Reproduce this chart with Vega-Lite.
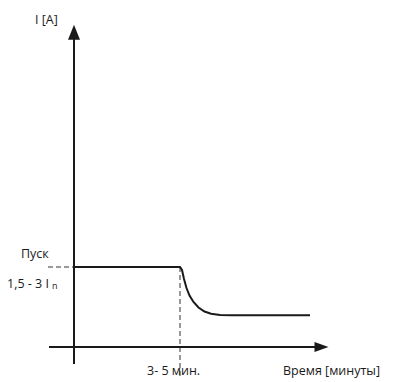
{
  "$schema": "https://vega.github.io/schema/vega-lite/v6.json",
  "width": 393,
  "height": 382,
  "autosize": {"type": "fit", "contains": "padding"},
  "padding": 0,
  "background": "white",
  "config": {"view": {"stroke": null}},
  "datasets": {
    "solid": [
      {"s": "yaxis", "o": 0, "x": 74, "y": 364},
      {"s": "yaxis", "o": 1, "x": 74, "y": 38},
      {"s": "xaxis", "o": 0, "x": 49, "y": 347},
      {"s": "xaxis", "o": 1, "x": 316, "y": 347},
      {"s": "curve", "o": 0, "x": 74, "y": 267},
      {"s": "curve", "o": 1, "x": 180, "y": 267},
      {"s": "curve", "o": 2, "x": 182, "y": 270},
      {"s": "curve", "o": 3, "x": 184, "y": 279},
      {"s": "curve", "o": 4, "x": 186.5, "y": 288},
      {"s": "curve", "o": 5, "x": 189.5, "y": 295.5},
      {"s": "curve", "o": 6, "x": 193.5, "y": 302},
      {"s": "curve", "o": 7, "x": 198.5, "y": 307.5},
      {"s": "curve", "o": 8, "x": 204.5, "y": 311.5},
      {"s": "curve", "o": 9, "x": 211, "y": 313.8},
      {"s": "curve", "o": 10, "x": 220, "y": 315},
      {"s": "curve", "o": 11, "x": 232, "y": 315.3},
      {"s": "curve", "o": 12, "x": 310, "y": 315.3}
    ],
    "dashed": [
      {"s": "h", "x": 48, "y": 267},
      {"s": "h", "x": 74, "y": 267},
      {"s": "v", "x": 180, "y": 267},
      {"s": "v", "x": 180, "y": 378}
    ],
    "labels": [
      {"t": "I [A]", "x": 35, "y": 20},
      {"t": "Пуск", "x": 21, "y": 254},
      {"t": "1,5 - 3 I", "x": 7, "y": 284},
      {"t": "3- 5 мин.", "x": 147, "y": 371},
      {"t": "Время [минуты]", "x": 283, "y": 371}
    ],
    "sub": [{"t": "n", "x": 52, "y": 286}],
    "up": [{"x": 74, "y": 32.3}],
    "right": [{"x": 321.5, "y": 347}]
  },
  "encoding": {
    "x": {"field": "x", "type": "quantitative", "scale": {"domain": [0, 393], "nice": false, "zero": false}, "axis": null},
    "y": {"field": "y", "type": "quantitative", "scale": {"domain": [0, 382], "nice": false, "zero": false, "reverse": true}, "axis": null}
  },
  "layer": [
    {
      "data": {"name": "dashed"},
      "mark": {"type": "line", "color": "#333", "strokeWidth": 1, "strokeDash": [5, 3]},
      "encoding": {"detail": {"field": "s"}}
    },
    {
      "data": {"name": "solid"},
      "mark": {"type": "line", "color": "#1a1a1a", "strokeWidth": 2},
      "encoding": {"detail": {"field": "s"}, "order": {"field": "o"}}
    },
    {
      "data": {"name": "up"},
      "mark": {"type": "point", "shape": "M0,-1L0.8,1L-0.8,1Z", "size": 225, "filled": true, "color": "#1a1a1a", "opacity": 1, "strokeWidth": 0}
    },
    {
      "data": {"name": "right"},
      "mark": {"type": "point", "shape": "M1,0L-1,0.72L-1,-0.72Z", "size": 196, "filled": true, "color": "#1a1a1a", "opacity": 1, "strokeWidth": 0}
    },
    {
      "data": {"name": "labels"},
      "mark": {"type": "text", "align": "left", "baseline": "middle", "font": "Open Sans", "fontSize": 12.5, "color": "#1a1a1a"},
      "encoding": {"text": {"field": "t"}}
    },
    {
      "data": {"name": "sub"},
      "mark": {"type": "text", "align": "left", "baseline": "middle", "font": "Open Sans", "fontSize": 9, "color": "#1a1a1a"},
      "encoding": {"text": {"field": "t"}}
    }
  ]
}
